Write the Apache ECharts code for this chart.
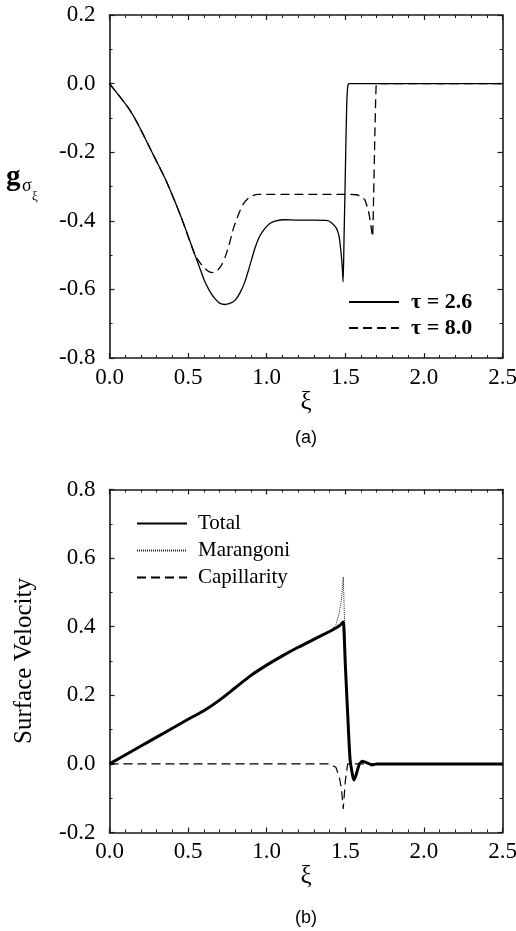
<!DOCTYPE html>
<html>
<head>
<meta charset="utf-8">
<script src="https://cdn.jsdelivr.net/npm/echarts@6/dist/echarts.min.js"></script>
<style>
html,body{margin:0;padding:0;background:#fff;}
#chart{width:516px;height:931px;}
</style>
</head>
<body>
<div id="chart"></div>
<script>
// ---- Panel (a): g_sigma_xi vs xi ----
var xiTau26 = [0, 0.12, 0.183, 0.268, 0.363, 0.459, 0.544, 0.58, 0.607, 0.64, 0.671, 0.70, 0.734, 0.765, 0.798, 0.83, 0.861, 0.89, 0.925, 0.955, 0.989, 1.02, 1.052, 1.116, 1.2, 1.3, 1.38, 1.41, 1.444, 1.46, 1.47, 1.48, 1.486, 1.492, 1.5, 1.508, 1.515, 1.525, 2.0, 2.5];
var gTau26  = [0, -0.071, -0.12, -0.198, -0.286, -0.393, -0.5, -0.545, -0.578, -0.607, -0.627, -0.64, -0.644, -0.641, -0.632, -0.61, -0.578, -0.535, -0.48, -0.445, -0.422, -0.408, -0.401, -0.397, -0.398, -0.398, -0.399, -0.405, -0.422, -0.445, -0.48, -0.53, -0.578, -0.45, -0.266, -0.08, -0.01, 0, 0, 0];
var xiTau80 = [0, 0.12, 0.183, 0.268, 0.363, 0.459, 0.544, 0.58, 0.607, 0.635, 0.66, 0.69, 0.713, 0.74, 0.766, 0.79, 0.819, 0.85, 0.883, 0.915, 0.946, 1.2, 1.5, 1.571, 1.6, 1.624, 1.64, 1.652, 1.665, 1.673, 1.68, 1.688, 1.695, 1.7, 2.0, 2.5];
var gTau80  = [0, -0.071, -0.12, -0.198, -0.286, -0.393, -0.5, -0.525, -0.539, -0.549, -0.551, -0.543, -0.529, -0.5, -0.461, -0.42, -0.383, -0.352, -0.334, -0.326, -0.323, -0.323, -0.323, -0.324, -0.329, -0.339, -0.36, -0.383, -0.42, -0.446, -0.33, -0.15, -0.02, 0, 0, 0];

// ---- Panel (b): surface velocity vs xi ----
var xiVel = [0, 0.1, 0.2, 0.3, 0.4, 0.5, 0.6, 0.7, 0.8, 0.9, 1.0, 1.1, 1.2, 1.3, 1.4, 1.44, 1.46, 1.475, 1.487, 1.5, 1.515, 1.53, 1.545, 1.555, 1.57, 1.59, 1.61, 1.64, 1.67, 1.7, 2.0, 2.5];
var velTotal       = [0, 0.026, 0.052, 0.078, 0.104, 0.13, 0.155, 0.186, 0.222, 0.258, 0.288, 0.315, 0.34, 0.363, 0.386, 0.396, 0.402, 0.408, 0.414, 0.29, 0.147, 0.015, -0.03, -0.047, -0.03, 0.0, 0.008, 0.003, -0.003, 0, 0, 0];
var velMarangoni   = [0, 0.026, 0.052, 0.078, 0.104, 0.13, 0.155, 0.186, 0.222, 0.258, 0.288, 0.315, 0.34, 0.363, 0.386, 0.406, 0.437, 0.478, 0.545, 0.34, 0.147, 0.015, -0.03, -0.047, -0.03, 0.0, 0.008, 0.003, -0.003, 0, 0, 0];
var velCapillarity = [0, 0, 0, 0, 0, 0, 0, 0, 0, 0, 0, 0, 0, 0, 0, -0.01, -0.035, -0.07, -0.131, -0.05, 0, 0, 0, 0, 0, 0, 0, 0, 0, 0, 0, 0];

function zip(xs, ys){ return xs.map(function(x,i){ return [x, ys[i]]; }); }

var SERIF = '"Liberation Serif","DejaVu Serif",serif';
var AX = '#1a1a1a';

function xAxisMain(gi){
  return {
    type:'value', gridIndex:gi, min:0, max:2.5, interval:0.5, position:'bottom',
    axisLine:{show:true, onZero:false, lineStyle:{color:AX, width:1.6}},
    axisTick:{show:true, inside:true, length:5, lineStyle:{color:AX, width:1.2}},
    minorTick:{show:true, splitNumber:5, length:3, lineStyle:{color:AX, width:1}},
    splitLine:{show:false},
    axisLabel:{show:true, margin:8, color:'#000', fontFamily:SERIF, fontSize:23, formatter:function(v){return v.toFixed(1);}},
    name:'ξ', nameLocation:'middle', nameGap:28,
    nameTextStyle:{fontFamily:SERIF, fontSize:25, color:'#000'}
  };
}
function xAxisTop(gi){
  return {
    type:'value', gridIndex:gi, min:0, max:2.5, interval:0.5, position:'top',
    axisLine:{show:true, onZero:false, lineStyle:{color:AX, width:1.6}},
    axisTick:{show:true, inside:true, length:5, lineStyle:{color:AX, width:1.2}},
    minorTick:{show:true, splitNumber:5, length:3, lineStyle:{color:AX, width:1}},
    splitLine:{show:false}, axisLabel:{show:false}
  };
}
function yAxisMain(gi, mn, mx){
  return {
    type:'value', gridIndex:gi, min:mn, max:mx, interval:0.2, position:'left',
    axisLine:{show:true, onZero:false, lineStyle:{color:AX, width:1.6}},
    axisTick:{show:true, inside:true, length:5, lineStyle:{color:AX, width:1.2}},
    minorTick:{show:true, splitNumber:2, length:3, lineStyle:{color:AX, width:1}},
    splitLine:{show:false},
    axisLabel:{show:true, margin:14, color:'#000', fontFamily:SERIF, fontSize:23, formatter:function(v){return v.toFixed(1);}}
  };
}
function yAxisRight(gi, mn, mx){
  return {
    type:'value', gridIndex:gi, min:mn, max:mx, interval:0.2, position:'right',
    axisLine:{show:true, onZero:false, lineStyle:{color:AX, width:1.6}},
    axisTick:{show:true, inside:true, length:5, lineStyle:{color:AX, width:1.2}},
    minorTick:{show:true, splitNumber:2, length:3, lineStyle:{color:AX, width:1}},
    splitLine:{show:false}, axisLabel:{show:false}
  };
}

var chart = echarts.init(document.getElementById('chart'), null, {renderer:'canvas'});
var option = {
  backgroundColor:'#fff',
  animation:false,
  grid:[
    {left:109.5, right:13.5, top:15, height:343, containLabel:false, outerBoundsMode:'none'},
    {left:109.5, right:13.5, top:489.5, height:343, containLabel:false, outerBoundsMode:'none'}
  ],
  xAxis:[xAxisMain(0), xAxisTop(0), xAxisMain(1), xAxisTop(1)],
  yAxis:[yAxisMain(0,-0.8,0.2), yAxisRight(0,-0.8,0.2), yAxisMain(1,-0.2,0.8), yAxisRight(1,-0.2,0.8)],
  legend:[
    {
      left:343, top:286, orient:'vertical', itemWidth:50, itemHeight:14, itemGap:4,
      data:['τ = 2.6','τ = 8.0'],
      itemStyle:{opacity:0},
      textStyle:{fontFamily:SERIF, fontSize:22, fontWeight:'bold', color:'#000', padding:[0,0,0,7]}
    },
    {
      left:131, top:508, orient:'vertical', itemWidth:50, itemHeight:14, itemGap:6,
      data:['Total','Marangoni','Capillarity'],
      itemStyle:{opacity:0},
      textStyle:{fontFamily:SERIF, fontSize:21, color:'#000', padding:[0,0,0,6]}
    }
  ],
  series:[
    {name:'τ = 8.0', type:'line', xAxisIndex:0, yAxisIndex:0, symbol:'none', showSymbol:false, smooth:0.25,
     data:zip(xiTau80, gTau80), lineStyle:{color:'#000', width:1.3, type:[9,5]}, itemStyle:{color:'#000'}},
    {name:'τ = 2.6', type:'line', xAxisIndex:0, yAxisIndex:0, symbol:'none', showSymbol:false, smooth:0.25,
     data:zip(xiTau26, gTau26), lineStyle:{color:'#000', width:1.3, type:'solid'}, itemStyle:{color:'#000'}},
    {name:'Marangoni', type:'line', xAxisIndex:2, yAxisIndex:2, symbol:'none', showSymbol:false,
     data:zip(xiVel, velMarangoni), lineStyle:{color:'#222', width:1, type:[1,1]}, itemStyle:{color:'#222'}},
    {name:'Capillarity', type:'line', xAxisIndex:2, yAxisIndex:2, symbol:'none', showSymbol:false,
     data:zip(xiVel, velCapillarity), lineStyle:{color:'#000', width:1.2, type:[9,5]}, itemStyle:{color:'#000'}},
    {name:'Total', type:'line', xAxisIndex:2, yAxisIndex:2, symbol:'none', showSymbol:false, smooth:0.2,
     data:zip(xiVel, velTotal), lineStyle:{color:'#000', width:3}, itemStyle:{color:'#000'}}
  ],
  graphic:[
    {type:'text', left:6, top:163, style:{text:'g', font:'bold 29px '+SERIF, fill:'#000'}},
    {type:'text', left:22, top:177, style:{text:'σ', font:'18px '+SERIF, fill:'#000'}},
    {type:'text', left:32, top:190, style:{text:'ξ', font:'13px '+SERIF, fill:'#000'}},
    {type:'text', x:24, y:661, rotation:Math.PI/2, style:{text:'Surface Velocity', font:'25px '+SERIF, fill:'#000', align:'center', verticalAlign:'middle'}},
    {type:'text', x:306, y:438, style:{text:'(a)', font:'18px "Liberation Sans",Arial,sans-serif', fill:'#000', align:'center', verticalAlign:'middle'}},
    {type:'text', x:306, y:918, style:{text:'(b)', font:'18px "Liberation Sans",Arial,sans-serif', fill:'#000', align:'center', verticalAlign:'middle'}}
  ]
};
chart.setOption(option);
</script>
</body>
</html>
